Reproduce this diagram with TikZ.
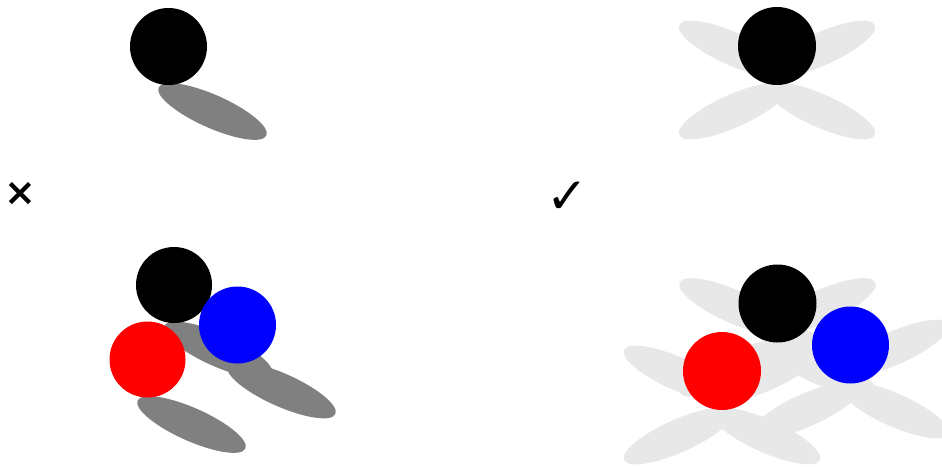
\documentclass[tikz,border=0pt]{standalone}
\usepackage{fontspec}
\newfontfamily\markfont{DejaVu Sans}
\usepackage{tikz}
\usetikzlibrary{positioning}

\definecolor{darkshade}{gray}{0.5}
\definecolor{lightshade}{gray}{0.91}

\tikzset{
    ball/.style={fill=#1},
    hardshadow/.style={fill=darkshade},
    softshadow/.style={fill=lightshade},
    verdict/.style={inner sep=0pt}
}

\begin{document}
\begin{tikzpicture}[x=1pt, y=1pt]

\useasboundingbox (0,0) rectangle (942,-466);

% One light: a single dark shadow below-right of the ball
% Arguments: x, y of the ball centre
\def\oneshadow#1#2{
    \begin{scope}[shift={(#1,#2)}]
    \fill[hardshadow, rotate around={-24:(44,-65)}] (44,-65) ellipse [x radius=59, y radius=16.5];
    \end{scope}
}

% Four lights: four pale shadows crossing below the ball
% Arguments: x, y of the ball centre
\def\fourshadows#1#2{
    \begin{scope}[shift={(#1,#2)}]
    \fill[softshadow, rotate around={-24:(44,-65)}] (44,-65) ellipse [x radius=59, y radius=16.5];
    \fill[softshadow, rotate around={24:(-44,-65)}] (-44,-65) ellipse [x radius=59, y radius=16.5];
    \fill[softshadow, rotate around={24:(44,-3)}] (44,-3) ellipse [x radius=59, y radius=16.5];
    \fill[softshadow, rotate around={-24:(-44,-3)}] (-44,-3) ellipse [x radius=59, y radius=16.5];
    \end{scope}
}

% Top left: single ball, hard shadow
\oneshadow{168.5}{-46.5}
\fill[ball=black] (168.5,-46.5) circle [radius=38.5];

% Top right: single ball, soft shadows
\fourshadows{777}{-46}
\fill[ball=black] (777,-46) circle [radius=39];

% Verdicts
\node[verdict, font=\markfont\bfseries\fontsize{38}{38}\selectfont] (wrong) at (20.5,-194) {×};
\node[verdict, font=\markfont\fontsize{50}{50}\selectfont] (right) at (567.5,-198) {✓};

% Bottom left: three balls, hard shadows
\foreach \bx/\by in {174/-285, 237.5/-325, 147.5/-359.5}
    \oneshadow{\bx}{\by};
\fill[ball=black] (174,-285) circle [radius=38];
\fill[ball=red] (147.5,-359.5) circle [radius=38];
\fill[ball=blue] (237.5,-325) circle [radius=38.5];

% Bottom right: three balls, soft shadows
\foreach \bx/\by in {777.5/-303.5, 850.5/-345, 722/-371}
    \fourshadows{\bx}{\by};
\fill[ball=black] (777.5,-303.5) circle [radius=39];
\fill[ball=red] (722,-371) circle [radius=39];
\fill[ball=blue] (850.5,-345) circle [radius=38.5];

\end{tikzpicture}
\end{document}
